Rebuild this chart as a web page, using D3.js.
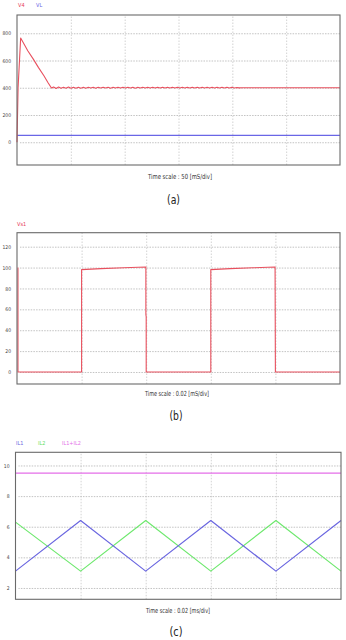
<!DOCTYPE html>
<html><head><meta charset="utf-8">
<script src="https://cdn.jsdelivr.net/npm/d3@7"></script>
<style>
html,body{margin:0;padding:0;background:#fff;}
svg{display:block;}
</style></head>
<body>
<script>
// ---------- DATA ----------
// Panel (a): time in ms, values in V
const aTicks = [0, 200, 400, 600, 800];
const aDivs = [0, 50, 100, 150, 200, 250, 300];
const aV4Times = [0, 1, 3.4, 6, 10, 15, 20, 25, 29, 32];
const aV4Values = [0, 400, 765, 728, 672, 612, 548, 488, 435, 398];
// ripple segment: starts at 34 ms, step 2.3 ms
const aRippleStart = 34, aRippleStep = 2.3;
const aRipple = [406,395,405,396,404,397,405,396,404,397,404,397,404,397,403,398,404,397,403,398,
                 403,398,404,397,403,398,403,398,403,398,403,398,404,397,403,398,403,398,403,398,
                 403,398,403,398,403,398,403,398,403,398,403,398,403,398,403,398,403,398,403,398,
                 403,398,403,398,403,398,403,398,403,398,403,398,403,398,402,399,400];
const aV4Tail = [[216, 400], [300, 400]];
const aVLTimes = [0, 300];
const aVLValues = [50, 50];

// Panel (b): time in ms, values in V
const bTicks = [0, 20, 40, 60, 80, 100, 120];
const bDivs = [0, 0.02, 0.04, 0.06, 0.08, 0.10];
const bVs1Times = [0.0003, 0.0003, 0.02, 0.02, 0.026, 0.033, 0.0399, 0.0399, 0.04, 0.04, 0.06, 0.06, 0.066, 0.073, 0.0799, 0.08, 0.10];
const bVs1Values = [100, 0, 0, 98, 99, 99.8, 100.5, 55, 53, 0, 0, 98, 99, 99.8, 100.5, 0, 0];

// Panel (c): time in ms, values in A
const cTicks = [2, 4, 6, 8, 10];
const cDivs = [0, 0.02, 0.04, 0.06, 0.08, 0.10];
const cTimes = [0, 0.02, 0.04, 0.06, 0.08, 0.10];
const cIL1 = [3.1, 6.4, 3.1, 6.4, 3.1, 6.4];
const cIL2 = [6.3, 3.1, 6.4, 3.1, 6.4, 3.1];
const cSum = [9.5, 9.5, 9.5, 9.5, 9.5, 9.5];

// ---------- DRAW ----------
const W = 346, H = 640;
const svg = d3.select("body").append("svg").attr("width", W).attr("height", H);
const font = "'DejaVu Sans Condensed','Liberation Sans Narrow','Liberation Sans',sans-serif";

function panel(cfg) {
  const x = d3.scaleLinear().domain(cfg.xDomain).range([cfg.left, cfg.right]);
  const y = d3.scaleLinear().domain(cfg.yDomain).range([cfg.bottom, cfg.top]);
  const g = svg.append("g");

  // vertical grid
  g.append("g").attr("transform", `translate(0,${cfg.bottom})`)
    .call(d3.axisBottom(x).tickValues(cfg.divs.slice(1, -1)).tickSize(-(cfg.bottom - cfg.top)).tickFormat(""))
    .call(s => s.select(".domain").remove())
    .call(s => s.selectAll("line").attr("stroke", "#c8c8c8").attr("stroke-dasharray", "1.5,1.5").attr("stroke-width", 0.8));

  // horizontal grid
  g.append("g").attr("transform", `translate(${cfg.right},0)`)
    .call(d3.axisLeft(y).tickValues(cfg.ticks).tickSize(cfg.right - cfg.left - 3).tickFormat(""))
    .call(s => s.select(".domain").remove())
    .call(s => s.selectAll("line").attr("stroke", "#b4b4b4").attr("stroke-dasharray", "1.5,1.2").attr("stroke-width", 0.8));

  // tick labels
  g.append("g").attr("transform", `translate(${cfg.left - 6},0)`)
    .call(d3.axisLeft(y).tickValues(cfg.ticks).tickSize(0).tickPadding(0))
    .call(s => s.select(".domain").remove())
    .call(s => s.selectAll("text").attr("font-size", 5).attr("fill", "#444")
      .attr("font-family", font));

  // series
  const line = d3.line().x(d => x(d[0])).y(d => y(d[1]));
  cfg.series.forEach(sr => {
    g.append("path").datum(sr.pts).attr("fill", "none").attr("stroke", sr.color)
      .attr("stroke-width", sr.width || 1.1).attr("stroke-linejoin", "round").attr("d", line);
  });

  // frame
  g.append("rect").attr("x", cfg.left).attr("y", cfg.top)
    .attr("width", cfg.right - cfg.left).attr("height", cfg.bottom - cfg.top)
    .attr("fill", "none").attr("stroke", "#6a6a6a").attr("stroke-width", 1.1);

  // legend
  cfg.legend.forEach(l => {
    g.append("text").attr("x", l.x).attr("y", cfg.legendY).text(l.text)
      .attr("font-size", 5.5).attr("fill", l.color).attr("font-family", font);
  });

  // time-scale caption and panel label
  g.append("text").attr("x", cfg.capX).attr("y", cfg.capY).attr("text-anchor", "middle")
    .attr("font-size", 7).attr("fill", "#333").attr("font-family", font)
    .attr("textLength", cfg.capW).attr("lengthAdjust", "spacingAndGlyphs").text(cfg.caption);
  g.append("text").attr("x", cfg.labX).attr("y", cfg.labY).attr("text-anchor", "middle")
    .attr("font-size", 12).attr("fill", "#222").attr("font-family", font)
    .attr("textLength", 13).attr("lengthAdjust", "spacingAndGlyphs").text(cfg.label);
}

// panel (a) series assembly
const aV4 = aV4Times.map((t, i) => [t, aV4Values[i]])
  .concat(aRipple.map((v, i) => [aRippleStart + i * aRippleStep, v]))
  .concat(aV4Tail);
const aVL = aVLTimes.map((t, i) => [t, aVLValues[i]]);

panel({
  left: 17, right: 340, top: 15, bottom: 165,
  xDomain: [0, 300], yDomain: [-167, 934],
  divs: aDivs, ticks: aTicks,
  series: [{pts: aVL, color: "#6a66e6", width: 1.3}, {pts: aV4, color: "#e8505e", width: 1.1}],
  legendY: 7, legend: [{x: 18, text: "V4", color: "#e8405a"}, {x: 36, text: "VL", color: "#6a66e6"}],
  caption: "Time scale : 50 [mS/div]", capW: 64, capX: 180, capY: 179,
  label: "(a)", labX: 173.5, labY: 204
});

panel({
  left: 17, right: 340, top: 232.7, bottom: 384,
  xDomain: [0, 0.10], yDomain: [-11.5, 133.4],
  divs: bDivs, ticks: bTicks,
  series: [{pts: bVs1Times.map((t, i) => [t, bVs1Values[i]]), color: "#e8505e", width: 1.1}],
  legendY: 226, legend: [{x: 17, text: "Vs1", color: "#e8405a"}],
  caption: "Time scale : 0.02 [mS/div]", capW: 64, capX: 177, capY: 396,
  label: "(b)", labX: 176, labY: 420
});

panel({
  left: 15.5, right: 341, top: 452.3, bottom: 599.3,
  xDomain: [0, 0.10], yDomain: [1.26, 10.86],
  divs: cDivs, ticks: cTicks,
  series: [
    {pts: cTimes.map((t, i) => [t, cSum[i]]), color: "#e46ee8", width: 1.2},
    {pts: cTimes.map((t, i) => [t, cIL2[i]]), color: "#6ee86e", width: 1.2},
    {pts: cTimes.map((t, i) => [t, cIL1[i]]), color: "#6a66e0", width: 1.2}
  ],
  legendY: 445, legend: [{x: 16, text: "IL1", color: "#6a66e0"}, {x: 38, text: "IL2", color: "#5fe05f"}, {x: 62, text: "IL1+IL2", color: "#e46ee8"}],
  caption: "Time scale : 0.02 [ms/div]", capW: 64, capX: 178, capY: 613,
  label: "(c)", labX: 176, labY: 636
});
</script>
</body></html>
